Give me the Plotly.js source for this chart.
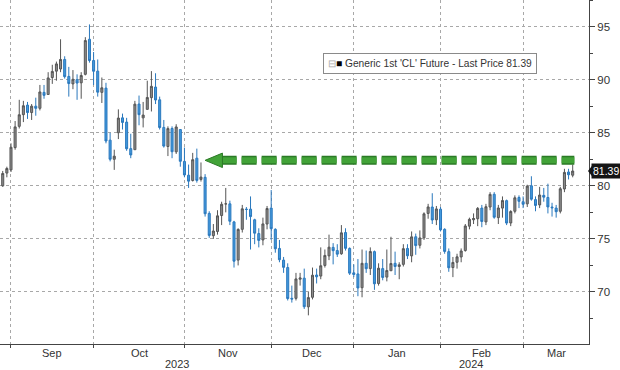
<!DOCTYPE html>
<html><head><meta charset="utf-8">
<script src="https://cdn.plot.ly/plotly-3.0.1.min.js"></script>
<style>html,body{margin:0;padding:0;background:#fff}</style>
</head><body><div id="chart" style="width:620px;height:370px"></div>
<script>
// Generic 1st 'CL' Future, daily OHLC (trading days)
const dates = [
'2023-08-29','2023-08-30','2023-08-31','2023-09-01','2023-09-05','2023-09-06','2023-09-07','2023-09-08',
'2023-09-11','2023-09-12','2023-09-13','2023-09-14','2023-09-15','2023-09-18','2023-09-19','2023-09-20',
'2023-09-21','2023-09-22','2023-09-25','2023-09-26','2023-09-27','2023-09-28','2023-09-29',
'2023-10-02','2023-10-03','2023-10-04','2023-10-05','2023-10-06','2023-10-09','2023-10-10','2023-10-11',
'2023-10-12','2023-10-13','2023-10-16','2023-10-17','2023-10-18','2023-10-19','2023-10-20','2023-10-23',
'2023-10-24','2023-10-25','2023-10-26','2023-10-27','2023-10-30','2023-10-31',
'2023-11-01','2023-11-02','2023-11-03','2023-11-06','2023-11-07','2023-11-08','2023-11-09','2023-11-10',
'2023-11-13','2023-11-14','2023-11-15','2023-11-16','2023-11-17','2023-11-20','2023-11-21','2023-11-22',
'2023-11-24','2023-11-27','2023-11-28','2023-11-29','2023-11-30',
'2023-12-01','2023-12-04','2023-12-05','2023-12-06','2023-12-07','2023-12-08','2023-12-11','2023-12-12',
'2023-12-13','2023-12-14','2023-12-15','2023-12-18','2023-12-19','2023-12-20','2023-12-21','2023-12-22',
'2023-12-26','2023-12-27','2023-12-28','2023-12-29',
'2024-01-02','2024-01-03','2024-01-04','2024-01-05','2024-01-08','2024-01-09','2024-01-10','2024-01-11',
'2024-01-12','2024-01-16','2024-01-17','2024-01-18','2024-01-19','2024-01-22','2024-01-23','2024-01-24',
'2024-01-25','2024-01-26','2024-01-29','2024-01-30','2024-01-31',
'2024-02-01','2024-02-02','2024-02-05','2024-02-06','2024-02-07','2024-02-08','2024-02-09','2024-02-12',
'2024-02-13','2024-02-14','2024-02-15','2024-02-16','2024-02-20','2024-02-21','2024-02-22','2024-02-23',
'2024-02-26','2024-02-27','2024-02-28','2024-02-29',
'2024-03-01','2024-03-04','2024-03-05','2024-03-06','2024-03-07','2024-03-08','2024-03-11','2024-03-12',
'2024-03-13','2024-03-14','2024-03-15','2024-03-18'
];
const open = [
80.0,81.2,81.5,83.6,85.6,86.7,87.6,86.9,87.5,87.3,88.8,88.6,90.2,90.8,91.0,91.9,
90.3,89.6,90.0,89.7,90.5,93.8,91.8,
90.8,88.8,89.2,84.3,82.5,85.0,86.4,86.0,83.5,83.4,87.7,86.4,87.2,88.3,89.3,88.1,85.5,83.7,85.4,83.2,85.3,82.3,
81.0,80.5,82.6,80.6,80.8,77.4,75.3,75.7,77.2,78.3,78.3,76.6,73.0,75.9,77.8,77.8,76.8,75.5,74.9,76.4,77.9,
75.9,74.1,73.0,72.3,69.4,69.4,71.2,71.3,68.6,69.5,71.6,71.5,72.5,73.4,74.2,73.9,73.6,75.6,74.1,71.8,
71.7,70.4,72.7,72.2,73.8,70.8,72.2,71.4,72.0,72.7,72.4,72.6,74.1,73.4,75.2,74.4,75.1,77.4,78.0,76.8,77.8,
75.9,73.8,72.3,72.8,73.3,73.9,76.2,76.8,76.9,77.9,76.6,78.0,79.2,77.0,77.9,78.6,76.5,77.6,78.9,78.5,
78.3,80.0,78.7,78.2,79.1,78.9,78.0,77.9,77.6,79.7,81.3,81.0
];
const high = [
81.4,81.8,84.0,86.1,88.1,88.0,87.9,87.7,88.3,89.5,89.5,90.7,91.4,91.7,93.8,92.2,
91.2,90.9,90.5,90.7,94.0,95.2,92.6,
91.9,90.2,89.7,85.0,83.4,87.2,86.8,86.4,84.9,88.0,88.5,87.9,89.9,90.8,90.6,88.4,86.2,85.6,85.6,85.8,85.3,83.6,
82.0,83.1,83.5,82.2,81.1,77.6,76.4,77.7,78.5,79.8,78.6,76.7,76.0,78.2,78.0,79.0,76.9,76.0,77.0,78.1,79.6,
76.0,74.9,73.3,72.7,70.6,71.8,71.8,72.2,70.0,72.3,72.2,74.2,74.0,75.4,74.6,74.5,76.3,76.0,74.2,72.6,
73.1,74.0,73.9,74.2,73.9,72.7,73.1,74.0,75.2,73.8,72.8,74.5,74.5,75.7,75.5,75.8,77.5,78.3,79.3,78.1,78.0,
76.0,74.1,73.3,73.6,74.1,76.4,77.0,77.4,78.0,78.2,78.3,79.4,79.4,78.2,79.0,78.7,77.7,79.1,79.1,79.0,
80.1,80.9,79.0,79.9,79.8,80.2,78.4,78.2,79.9,81.6,81.6,82.0
];
const low = [
79.9,80.8,81.3,83.4,85.4,86.0,86.3,86.2,86.6,87.1,88.2,88.6,89.6,89.9,90.7,90.1,
88.4,89.1,88.1,88.2,90.4,91.6,89.5,
88.4,87.8,84.0,82.3,81.5,84.4,85.3,83.3,82.6,83.4,85.7,85.5,87.2,87.0,87.7,85.3,83.6,82.8,82.6,83.0,81.8,80.8,
79.8,80.4,80.3,80.4,77.1,75.1,75.0,75.4,76.3,77.5,76.3,72.3,72.5,75.6,76.8,74.0,74.5,74.2,74.4,75.9,74.9,
73.7,72.8,71.8,69.2,69.0,69.2,70.6,68.4,67.8,69.3,70.8,71.2,72.3,73.0,72.6,73.3,73.5,73.9,71.6,71.4,
69.6,69.5,71.8,71.6,70.2,70.6,71.1,71.0,72.0,71.6,71.2,72.4,73.1,72.8,73.5,74.1,74.9,76.9,76.4,76.3,75.7,
73.6,71.9,71.4,72.2,72.8,73.8,75.9,76.4,76.2,76.1,76.3,77.7,76.9,76.4,77.0,76.3,76.2,77.4,77.9,77.9,
78.0,78.6,77.6,77.9,78.5,77.4,77.1,77.0,77.4,79.4,80.6,80.8
];
const close = [
81.16,81.63,83.63,85.55,86.69,87.54,86.9,87.5,87.3,88.84,88.52,90.16,90.77,91.48,91.9,90.28,
89.63,90.03,89.68,90.39,93.68,91.8,90.79,
88.82,89.23,84.22,82.5,82.79,86.38,85.97,83.49,82.91,87.69,86.7,86.66,88.32,89.37,88.08,85.49,83.74,85.39,83.21,85.54,82.31,81.02,
80.44,82.46,80.51,80.82,77.37,75.33,75.74,77.17,78.26,78.3,76.66,72.90,75.89,77.83,77.77,77.10,75.54,74.86,76.41,77.86,75.96,
74.07,73.04,72.32,69.38,69.34,71.23,71.32,68.61,69.47,71.58,71.43,72.47,73.44,74.22,73.89,73.56,75.57,74.11,71.77,71.65,
70.38,72.70,72.19,73.81,70.77,72.24,71.37,72.02,72.68,72.40,72.56,74.08,73.41,75.19,74.37,75.09,77.36,78.01,76.78,77.82,75.85,
73.82,72.28,72.78,73.31,73.86,76.22,76.84,76.92,77.87,76.64,78.03,79.19,77.04,77.91,78.61,76.49,77.58,78.87,78.54,78.26,
79.97,78.74,78.15,79.13,78.93,78.01,77.93,77.56,79.72,81.26,81.04,81.39
];
const monthLabels = ['Sep','Oct','Nov','Dec','Jan','Feb','Mar'];
const yearLabels = ['2023','2024'];
const yTicks = [70,75,80,85,90,95];
const seriesName = "Generic 1st 'CL' Future - Last Price";
const arrowLevel = 82.4;

// ---- layout helpers (derived from the data) ----
const idx = dates.map((d, i) => i);
const bounds = [];
for (let i = 0; i < dates.length - 1; i++) {
  if (dates[i].slice(5, 7) !== dates[i + 1].slice(5, 7)) bounds.push(i);
}
const xr = [-0.66, 141.95];
const edges = bounds.concat([xr[1]]);
const mids = [];
for (let i = 0; i < bounds.length; i++) mids.push((edges[i] + edges[i + 1]) / 2);
// year boundary = last trading day of December
const yearEnd = dates.findIndex(d => d.startsWith('2024')) - 1;
const yearMids = [(xr[0] + yearEnd) / 2, (yearEnd + xr[1]) / 2];
const last = close[close.length - 1];

const FONT = "'Liberation Sans', Arial, sans-serif";
const GREEN = '#42a338', GREEN_D = '#2b7a26';

const trace = {
  type: 'candlestick', x: idx, open: open, high: high, low: low, close: close,
  increasing: {line: {color: '#555555', width: 1}, fillcolor: '#8c8c8c'},
  decreasing: {line: {color: '#2a78bd', width: 1}, fillcolor: '#4399dd'},
  whiskerwidth: 0, hoverinfo: 'skip', name: seriesName
};

const annotations = [
  {xref: 'paper', yref: 'paper', x: 0.548, y: 0.814, xanchor: 'left', yanchor: 'middle',
   text: '<span style="color:#aaa">⊟</span><span style="color:#000">■</span> ' + seriesName + ' ' + last.toFixed(2),
   showarrow: false, bgcolor: '#fff', bordercolor: '#8a8a8a', borderwidth: 1, borderpad: 4,
   font: {family: FONT, size: 10.2, color: '#333'}},
  {xref: 'paper', yref: 'y', x: 1, y: last, xanchor: 'left', yanchor: 'middle', xshift: 2,
   text: last.toFixed(2), showarrow: false, bgcolor: '#151515', borderpad: 1,
   font: {family: FONT, size: 10.5, color: '#fff'}},
];
monthLabels.forEach((t, i) => annotations.push({
  xref: 'x', yref: 'paper', x: mids[i], y: 0, yanchor: 'middle', yshift: -8.5,
  text: t, showarrow: false, font: {family: FONT, size: 11, color: '#333'}
}));
yearLabels.forEach((t, i) => annotations.push({
  xref: 'x', yref: 'paper', x: yearMids[i], y: 0, yanchor: 'middle', yshift: -20,
  text: t, showarrow: false, font: {family: FONT, size: 11, color: '#333'}
}));

const shapes = [
  {type: 'line', xref: 'x', yref: 'y', x0: 53, x1: 138.4, y0: arrowLevel, y1: arrowLevel,
   line: {color: GREEN_D, width: 9, dash: '15px,5px'}},
  {type: 'line', xref: 'x', yref: 'y', x0: 53, x1: 138.4, y0: arrowLevel, y1: arrowLevel,
   line: {color: GREEN, width: 6, dash: '15px,5px'}},
  {type: 'path', xref: 'x', yref: 'y',
   path: `M49,${arrowLevel} L53.2,${arrowLevel + 0.68} L53.2,${arrowLevel - 0.68} Z`,
   fillcolor: GREEN, line: {color: GREEN_D, width: 1}},
  {type: 'path', xref: 'paper', xsizemode: 'pixel', xanchor: 1, yref: 'y',
   path: `M-1,${last} L3,${last + 0.5} L3,${last - 0.5} Z`,
   fillcolor: '#151515', line: {width: 0}}
];

const layout = {
  width: 620, height: 370,
  margin: {l: 0, r: 31, t: 0, b: 26, pad: 0},
  paper_bgcolor: '#fff', plot_bgcolor: '#fff',
  showlegend: false,
  font: {family: FONT, color: '#333'},
  xaxis: {
    type: 'linear', range: xr, rangeslider: {visible: false},
    tickmode: 'array', tickvals: mids, showticklabels: false,
    ticks: '', showgrid: false, zeroline: false,
    showline: true, linecolor: '#444', linewidth: 1,
    minor: {tickmode: 'array', tickvals: bounds, showgrid: true, gridcolor: '#a8a8a8',
            griddash: 'dot', gridwidth: 1, ticks: 'outside', ticklen: 3, tickcolor: '#444'},
    fixedrange: true
  },
  yaxis: {
    side: 'right', range: [65.1, 97.5],
    tickmode: 'array', tickvals: yTicks,
    ticks: 'outside', ticklen: 5, tickcolor: '#444',
    showgrid: true, gridcolor: '#a8a8a8', griddash: 'dot', gridwidth: 1,
    zeroline: false, showline: true, linecolor: '#444', linewidth: 1,
    tickfont: {family: FONT, size: 11.5, color: '#333'},
    minor: {dtick: 2.5, tick0: 0, ticks: 'outside', ticklen: 3, tickcolor: '#444', showgrid: false},
    fixedrange: true
  },
  annotations: annotations,
  shapes: shapes
};

Plotly.newPlot('chart', [trace], layout, {staticPlot: true, displayModeBar: false});
</script>
</body></html>
